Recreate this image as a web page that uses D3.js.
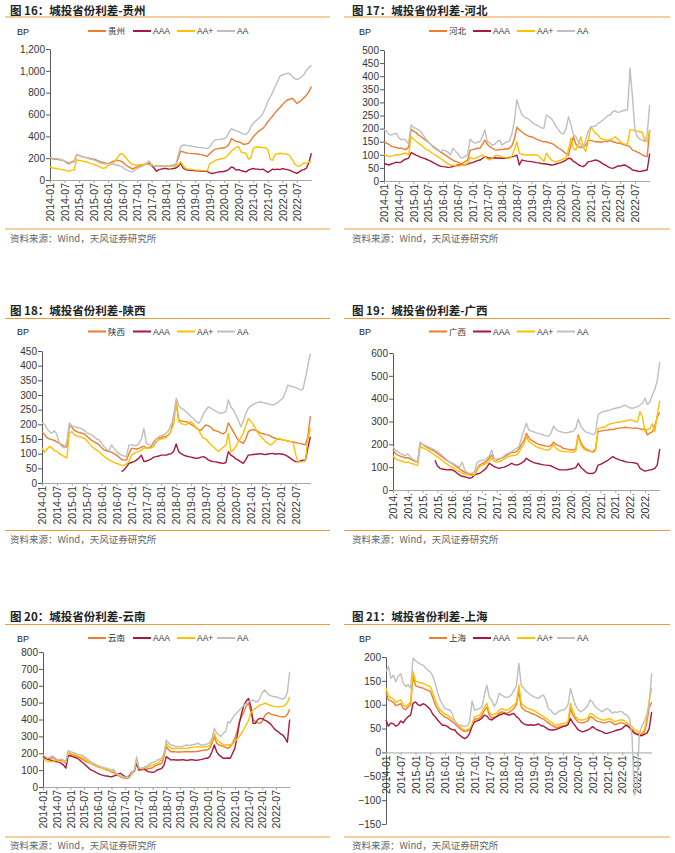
<!DOCTYPE html>
<html><head><meta charset="utf-8">
<script src="https://cdn.jsdelivr.net/npm/d3@7"></script>
<style>body{margin:0;background:#fff}svg{display:block}</style>
</head><body>
<svg id="c" width="675" height="853"></svg>
<script>
// ---------- DATA (monthly, 2014-01 .. 2023-01, 109 points) ----------
const xTickLabels = ["2014-01","2014-07","2015-01","2015-07","2016-01","2016-07","2017-01","2017-07","2018-01","2018-07","2019-01","2019-07","2020-01","2020-07","2021-01","2021-07","2022-01","2022-07"];
const xTickLabelsShort = ["2014.","2014.","2015.","2015.","2016.","2016.","2017.","2017.","2018.","2018.","2019.","2019.","2020.","2020.","2021.","2021.","2022.","2022."];
const legendNames = ["AAA","AA+","AA"];
const _ = null;

// 贵州
const gz_prov = [200,195,190,190,185,180,175,160,155,165,175,230, 225,215,210,205,200,195,190,185,175,165,160,155, 150,160,170,178,180,175,165,145,125,115,100,110, 120,128,135,140,150,155,140,130,128,125,128,130, 130,130,132,135,140,200,265,258,250,246,244,242, 240,238,235,230,222,218,240,262,280,285,290,293, 295,305,330,380,365,352,350,340,327,330,335,365, 397,420,443,460,473,500,534,560,586,615,641,665, 690,712,733,740,748,730,702,715,733,755,778,810, 855];
const gz_aaa = [_,_,_,_,_,_,_,_,_,_,_,_, _,_,_,_,_,_,_,_,_,_,_,_, _,_,_,_,_,_,_,_,_,_,_,_, _,_,_,_,_,150,130,110,80,95,100,105, 105,100,102,105,110,125,155,110,95,90,88,88, 85,85,82,85,80,78,65,60,65,70,75,75, 80,85,100,120,110,90,95,85,80,75,90,100, 105,100,100,95,100,85,70,85,100,95,100,95, 105,100,95,90,80,70,60,75,90,95,110,160, 245];
const gz_aap = [120,110,108,105,100,95,90,85,82,90,92,185, 180,175,170,165,160,150,145,135,125,115,108,112, 135,140,150,175,210,240,238,215,185,160,145,138, 138,140,142,145,145,140,135,130,130,128,130,130, 128,128,126,125,128,140,168,130,105,100,98,95, 92,90,88,88,86,85,150,160,175,185,190,195, 200,215,240,265,285,300,305,255,250,245,190,205, 290,300,305,300,298,295,280,190,180,235,240,245, 240,240,235,225,190,150,130,125,140,160,150,165, 170];
const gz_aa = [205,200,195,195,190,185,175,150,145,160,165,235, 225,215,210,205,195,190,185,175,165,155,150,145, 150,148,145,140,135,128,118,100,88,80,75,88, 105,115,125,140,160,175,140,128,125,128,130,130, 132,133,135,138,145,230,305,320,318,315,312,308, 305,300,298,295,292,290,300,340,365,370,372,375, 378,395,440,470,460,450,443,430,420,418,440,490, 520,540,560,580,610,660,720,760,800,855,900,950, 962,970,977,975,950,930,922,930,946,970,1007,1030, 1050];

// 河北
const hb_prov = [150,145,140,132,130,128,125,125,122,120,130,197, 190,185,175,170,162,155,148,140,132,125,118,110, 105,99,92,85,80,75,72,67,68,74,80,118, 120,122,125,125,140,156,140,131,125,120,118,120, 120,122,122,125,135,160,205,195,188,180,175,170, 169,165,160,156,152,150,150,146,144,140,132,125, 120,112,105,99,140,169,140,131,128,131,135,156, 155,152,150,150,148,150,152,150,155,150,148,144, 144,140,137,135,130,118,115,110,106,100,95,93, 195];
const hb_aaa = [67,64,61,65,68,72,70,72,80,84,87,108, 104,99,95,90,87,84,80,76,70,65,60,57, 55,54,52,53,55,58,61,60,61,62,65,68, 70,74,78,80,86,93,90,87,88,89,88,87, 88,87,88,90,92,95,99,61,80,78,76,75, 74,72,70,69,67,66,65,63,61,62,65,68, 70,75,80,87,85,75,70,62,58,55,62,74, 75,78,80,78,72,65,61,55,50,48,52,57, 57,60,61,55,50,42,40,38,36,38,40,42, 105];
const hb_aap = [102,98,93,95,98,100,99,102,105,106,99,169, 160,152,144,138,130,122,118,110,104,99,92,86, 80,72,65,61,60,58,57,58,60,63,67,90, 85,87,90,95,99,92,85,80,88,95,99,95, 92,90,88,87,95,120,150,106,102,100,99,99, 100,99,99,95,85,74,106,92,80,76,74,78, 80,85,87,120,163,125,118,140,169,130,112,150, 207,195,182,175,163,160,158,156,158,162,169,160, 150,144,140,142,195,195,192,190,188,185,156,150, 195];
const hb_aa = [197,190,178,175,180,182,165,158,160,155,140,214, 205,201,195,188,175,160,150,140,128,122,115,112, 118,115,110,100,125,115,105,90,88,95,100,160, 150,144,148,150,170,195,150,145,137,140,150,156, 137,145,150,152,180,230,310,280,255,245,240,235, 225,218,214,208,203,201,252,245,239,225,207,195, 182,180,200,245,215,175,170,150,140,125,156,190, 205,208,210,220,225,233,240,250,252,265,268,262, 264,268,270,272,430,322,195,169,160,156,150,180, 290];

// 陕西
const sx_prov = [175,165,155,150,148,145,140,135,130,125,122,195, 190,180,175,172,170,168,160,152,145,140,135,130, 120,113,110,107,105,100,95,88,80,78,78,100, 118,118,115,118,122,125,120,120,125,140,150,152, 155,158,160,165,180,230,280,215,212,210,209,205, 200,195,188,182,180,190,198,195,190,180,178,175, 170,168,175,205,190,175,160,145,140,135,150,175, 180,182,180,175,170,168,165,164,160,155,152,150, 148,147,145,143,141,140,138,136,135,132,130,160, 228];
const sx_aaa = [_,_,_,_,_,_,_,_,_,_,_,_, _,_,_,_,_,_,_,_,_,_,_,_, _,_,_,_,_,_,_,_,39,45,55,67, 70,73,78,85,95,73,75,78,82,88,90,92, 95,95,95,98,100,108,133,107,100,95,92,90, 88,86,84,85,88,90,85,78,75,73,72,70, 68,67,70,107,95,90,82,78,72,67,80,95, 96,97,98,99,100,98,97,99,100,101,98,100, 99,98,95,90,84,78,73,72,75,78,78,120, 158];
const sx_aap = [120,105,115,125,120,110,108,100,95,90,85,170, 175,165,160,158,155,152,145,135,125,118,112,107, 98,90,85,78,75,70,67,64,61,60,65,73, 95,101,105,108,112,118,120,118,120,125,140,147, 150,152,155,165,180,200,272,210,203,200,198,205, 209,200,190,180,165,152,150,140,130,124,115,107, 115,122,130,169,107,112,124,140,155,169,195,220, 210,200,185,169,160,150,141,135,130,135,145,152, 150,147,145,143,141,140,100,73,72,73,75,150, 186];
const sx_aa = [205,200,185,175,170,178,165,135,125,120,140,205, 195,192,190,188,185,180,172,168,164,158,150,147, 135,124,115,109,130,118,107,100,95,92,90,130, 130,128,128,135,150,186,135,130,130,130,150,158, 162,164,170,180,200,215,289,265,255,250,243,235, 226,220,210,203,215,237,248,260,255,249,245,240, 237,240,243,283,260,249,232,215,192,210,237,255, 262,268,272,275,277,274,272,270,268,266,270,275, 283,290,310,334,330,328,326,322,317,320,357,400, 442];

// 广西
const gx_prov = [175,160,152,148,145,140,142,135,130,125,122,205, 200,192,186,180,175,168,160,152,145,135,128,122, 115,108,100,92,85,78,73,70,66,68,90,109, 115,120,128,140,153,135,131,135,139,145,152,158, 165,165,168,180,200,215,248,228,218,212,205,200, 197,195,192,190,195,210,200,195,190,182,180,178, 175,175,180,241,210,190,180,175,170,168,180,255, 258,260,262,263,265,265,268,270,272,272,275,272, 272,270,272,270,268,265,268,241,250,255,280,320, 340];
const gx_aaa = [_,_,_,_,_,_,_,_,_,_,_,_, _,_,_,_,_,130,105,95,92,90,88,90, 88,82,73,65,60,58,55,51,55,66,70,73, 80,88,100,117,110,102,98,95,98,100,105,110, 117,112,109,112,118,125,139,131,125,120,117,115, 112,110,109,108,106,100,95,90,88,88,88,90, 92,95,98,117,100,90,80,73,72,73,80,109, 112,118,124,130,139,146,140,135,131,128,124,122, 121,120,118,115,95,88,83,85,88,90,95,110, 180];
const gx_aap = [150,135,132,128,125,120,122,118,115,110,108,190, 185,180,175,168,160,152,145,138,128,120,112,105, 100,92,85,80,75,70,66,64,64,66,85,102, 108,112,118,128,140,125,122,125,128,135,142,148, 150,152,153,165,185,200,234,212,205,197,190,185, 182,178,176,175,185,200,182,175,170,168,168,168, 166,165,170,234,200,182,175,170,168,165,170,270, 272,275,277,285,290,292,295,297,299,300,302,305, 307,305,300,299,343,320,255,265,270,290,255,330, 390];
const gx_aa = [190,175,168,160,155,150,158,145,135,128,125,210, 200,195,190,185,180,175,168,160,150,140,130,120, 118,112,105,100,122,90,76,73,72,80,120,128, 130,132,138,150,175,132,135,138,140,150,158,162, 168,175,182,190,226,260,292,263,258,255,250,248, 245,240,238,235,250,280,265,258,255,252,250,252, 255,258,270,310,280,265,255,250,248,242,250,328, 338,343,345,348,350,355,358,360,362,368,372,365, 360,358,362,365,372,380,402,375,385,416,440,480, 560];

// 云南
const yn_prov = [180,172,165,170,175,168,160,155,160,150,140,205, 195,190,185,178,172,165,158,150,145,140,132,125, 120,115,110,105,101,95,88,85,75,67,60,55, 52,51,60,80,95,150,100,101,103,105,108,111, 115,125,130,135,140,180,239,220,209,210,208,207, 207,208,209,210,209,209,209,210,212,215,217,219, 220,230,260,298,260,249,245,239,235,229,240,260, 288,330,387,420,446,480,496,446,400,387,380,377, 390,420,436,440,430,427,425,420,417,415,417,430, 460];
const yn_aaa = [180,170,165,160,158,152,150,148,140,130,112,185, 185,180,175,170,160,148,138,125,112,101,95,88, 81,75,70,67,65,62,61,65,71,78,81,70, 60,55,70,90,95,140,101,105,111,100,91,88, 87,90,101,105,111,130,180,170,160,162,160,160, 160,162,160,158,160,162,160,158,160,162,165,170, 170,180,210,249,210,190,180,170,170,172,170,200, 229,300,380,440,486,510,525,476,377,377,400,407, 405,397,390,380,367,350,335,328,315,308,290,265, 400];
const yn_aap = [170,160,150,152,150,155,158,150,155,150,145,205, 200,195,190,185,180,175,168,160,150,140,134,128, 122,116,110,107,103,98,92,95,80,71,62,58, 55,55,62,85,100,160,110,108,112,115,120,125, 130,135,140,150,160,195,259,240,229,228,228,229, 229,230,229,230,232,234,236,238,239,238,237,239, 239,245,275,318,285,269,260,249,249,249,250,255, 269,285,300,320,345,370,395,440,456,466,475,486, 490,496,493,486,482,478,476,474,476,478,485,500, 535];
const yn_aa = [190,180,170,175,185,175,165,160,165,160,150,215, 210,205,200,195,192,190,180,170,160,150,140,135, 126,122,118,113,111,105,101,105,81,74,66,61, 58,55,55,85,101,180,115,111,115,120,130,140, 145,150,160,165,170,200,278,260,249,245,240,240, 239,240,245,249,245,249,252,255,259,250,248,252, 255,262,290,348,320,308,300,318,330,387,380,410, 427,440,456,470,486,495,506,510,515,505,505,530, 560,575,560,545,540,535,535,530,525,520,530,560, 683];

// 上海
const sh_prov = [125,110,108,105,98,100,102,92,90,95,100,160, 140,138,136,135,132,130,128,115,100,90,82,78, 74,72,68,64,60,55,50,46,44,45,47,56, 70,70,72,78,88,95,78,72,74,76,82,85, 84,82,84,88,92,100,128,95,90,86,85,82, 80,78,75,72,70,66,62,58,55,52,53,55, 56,57,60,92,78,70,64,62,62,64,66,75, 73,68,65,64,62,62,64,65,62,58,60,62, 62,60,56,52,48,42,40,38,36,42,62,95, 105];
const sh_aaa = [68,55,62,60,55,58,66,62,70,75,78,103, 106,100,98,102,100,95,90,80,75,68,62,57, 57,54,50,48,47,40,36,32,29,32,40,55, 64,66,68,72,78,76,70,68,72,75,78,80, 82,80,78,80,82,75,71,64,60,58,57,58, 57,58,60,56,55,52,48,47,47,48,50,52, 54,55,58,71,62,55,48,45,43,45,47,50, 54,50,47,45,43,40,40,42,43,45,47,48, 50,55,57,52,45,40,38,36,35,38,40,50, 85];
const sh_aap = [135,118,115,112,105,108,110,100,96,100,106,170, 150,148,146,145,142,140,138,125,110,98,89,84, 80,78,74,70,66,60,54,50,47,48,50,60, 75,76,78,85,95,103,85,78,80,82,88,92, 90,89,90,95,99,105,141,103,98,94,92,90, 88,85,82,78,75,72,68,64,60,57,58,60, 61,62,65,103,85,75,70,68,68,70,72,82, 80,75,72,70,68,68,70,71,68,64,66,68, 68,66,62,58,54,47,45,42,40,47,70,110, 134];
const sh_aa = [170,180,155,162,148,160,165,145,138,142,135,198, 192,188,185,183,178,172,169,160,145,125,110,100, 92,90,89,80,64,60,57,56,54,55,64,108, 89,90,92,95,120,141,115,110,96,105,124,120, 117,115,117,120,130,140,187,140,135,128,124,120, 117,115,113,118,120,110,92,88,82,80,85,88, 89,92,100,134,115,99,90,85,88,92,98,110, 105,96,92,88,85,90,92,88,82,85,84,86, 85,80,78,70,35,-90,-75,40,55,65,80,100, 166];

const yTicks16 = [0,200,400,600,800,1000,1200];
const yTicks17 = [0,50,100,150,200,250,300,350,400,450,500];
const yTicks18 = [0,50,100,150,200,250,300,350,400,450];
const yTicks19 = [0,100,200,300,400,500,600];
const yTicks20 = [0,100,200,300,400,500,600,700,800];
const yTicks21 = [-150,-100,-50,0,50,100,150,200];
const xTickIndex = [0,6,12,18,24,30,36,42,48,54,60,66,72,78,84,90,96,102];

// ---------- LAYOUT / STYLE ----------
const colors = ["#ED7D31","#A5193F","#FFC000","#BFBFBF"];
const rows = [
  {title:14.5, rule:17, legend:31, srcRule:229, src:241.5},
  {title:314.5, rule:318.5, legend:331.5, srcRule:530.5, src:542.5},
  {title:621, rule:624.5, legend:638, srcRule:837, src:849}
];
const cols = [
  {ruleX:[5,330], textX:10, bpX:17, legX:[88,133,177,217]},
  {ruleX:[344,670], textX:352, bpX:359, legX:[429,473,517,557]}
];
const panels = [
  {title:"图 16：城投省份利差-贵州", name:"贵州", data:[gz_prov,gz_aaa,gz_aap,gz_aa], yTicks:yTicks16, fmt:d3.format(","), row:0, col:0, x0:50, ppm:2.42, yTop:49, yBot:180, labels:xTickLabels},
  {title:"图 17：城投省份利差-河北", name:"河北", data:[hb_prov,hb_aaa,hb_aap,hb_aa], yTicks:yTicks17, fmt:d3.format("d"), row:0, col:1, x0:384, ppm:2.46, yTop:50, yBot:181, labels:xTickLabels},
  {title:"图 18：城投省份利差-陕西", name:"陕西", data:[sx_prov,sx_aaa,sx_aap,sx_aa], yTicks:yTicks18, fmt:d3.format("d"), row:1, col:0, x0:42, ppm:2.485, yTop:351, yBot:483, labels:xTickLabels},
  {title:"图 19：城投省份利差-广西", name:"广西", data:[gx_prov,gx_aaa,gx_aap,gx_aa], yTicks:yTicks19, fmt:d3.format("d"), row:1, col:1, x0:393, ppm:2.47, yTop:353, yBot:490, labels:xTickLabelsShort},
  {title:"图 20：城投省份利差-云南", name:"云南", data:[yn_prov,yn_aaa,yn_aap,yn_aa], yTicks:yTicks20, fmt:d3.format("d"), row:2, col:0, x0:43, ppm:2.284, yTop:652, yBot:787, labels:xTickLabels},
  {title:"图 21：城投省份利差-上海", name:"上海", data:[sh_prov,sh_aaa,sh_aap,sh_aa], yTicks:yTicks21, fmt:d3.format("d"), row:2, col:1, x0:386, ppm:2.46, yTop:657, yBot:824, labels:xTickLabels}
];

const svg = d3.select("#c");
const LAT = "'Liberation Sans', Arial, 'Noto Sans CJK SC', sans-serif";
const CJK = "'Noto Sans CJK SC', 'Liberation Sans', sans-serif";

panels.forEach(p => {
  const R = rows[p.row], C = cols[p.col];
  const g = svg.append("g");
  // title
  g.append("text").attr("x", C.textX).attr("y", R.title).text(p.title)
    .attr("font-family", CJK).attr("font-size", 11.5).attr("font-weight", 700).attr("fill", "#222");
  g.append("line").attr("x1", C.ruleX[0]).attr("x2", C.ruleX[1]).attr("y1", R.rule).attr("y2", R.rule)
    .attr("stroke", "#EE9C3A").attr("stroke-width", 1.2);
  g.append("line").attr("x1", C.ruleX[0]).attr("x2", C.ruleX[1]).attr("y1", R.srcRule).attr("y2", R.srcRule)
    .attr("stroke", "#EE9C3A").attr("stroke-width", 1.2);
  g.append("text").attr("x", C.textX).attr("y", R.src).text("资料来源：Wind，天风证券研究所")
    .attr("font-family", CJK).attr("font-size", 9.5).attr("fill", "#666");
  g.append("text").attr("x", C.bpX).attr("y", R.legend + 3.5).text("BP")
    .attr("font-family", LAT).attr("font-size", 9).attr("fill", "#222");
  // legend
  const names = [p.name].concat(legendNames);
  names.forEach((n, i) => {
    const lx = C.legX[i];
    g.append("line").attr("x1", lx).attr("x2", lx + 18).attr("y1", R.legend).attr("y2", R.legend)
      .attr("stroke", colors[i]).attr("stroke-width", 2);
    g.append("text").attr("x", lx + 20).attr("y", R.legend + 3).text(n)
      .attr("font-family", i === 0 ? CJK : LAT).attr("font-size", 8.5).attr("fill", "#333");
  });

  const x = d3.scaleLinear().domain([0, 108]).range([p.x0, p.x0 + 108 * p.ppm]);
  const y = d3.scaleLinear().domain([p.yTicks[0], p.yTicks[p.yTicks.length - 1]]).range([p.yBot, p.yTop]);

  // y axis
  const ya = g.append("g").attr("transform", `translate(${p.x0},0)`)
    .call(d3.axisLeft(y).tickValues(p.yTicks).tickFormat(p.fmt).tickSize(4).tickSizeOuter(0));
  ya.select(".domain").attr("stroke", "#595959");
  ya.selectAll(".tick line").attr("stroke", "#595959");
  ya.selectAll("text").attr("font-family", LAT).attr("font-size", 10).attr("fill", "#333").attr("x", -5);

  // x axis at y=0
  const xa = g.append("g").attr("transform", `translate(0,${y(0)})`)
    .call(d3.axisBottom(x).tickValues(xTickIndex).tickFormat((d, i) => p.labels[i]).tickSize(3).tickSizeOuter(0));
  xa.select(".domain").attr("stroke", "#A6A6A6");
  xa.selectAll(".tick line").attr("stroke", "#A6A6A6");
  xa.selectAll("text").attr("font-family", LAT).attr("font-size", 10.5).attr("fill", "#333")
    .attr("transform", "rotate(-90)").attr("text-anchor", "end")
    .attr("x", -3).attr("y", 0).attr("dy", "0.35em");

  // lines
  const line = d3.line().defined(d => d != null).x((d, i) => x(i)).y(d => y(d));
  p.data.forEach((arr, i) => {
    g.append("path").datum(arr).attr("d", line).attr("fill", "none")
      .attr("stroke", colors[i]).attr("stroke-width", 1.4).attr("stroke-linejoin", "round");
  });
});
</script>
</body></html>
